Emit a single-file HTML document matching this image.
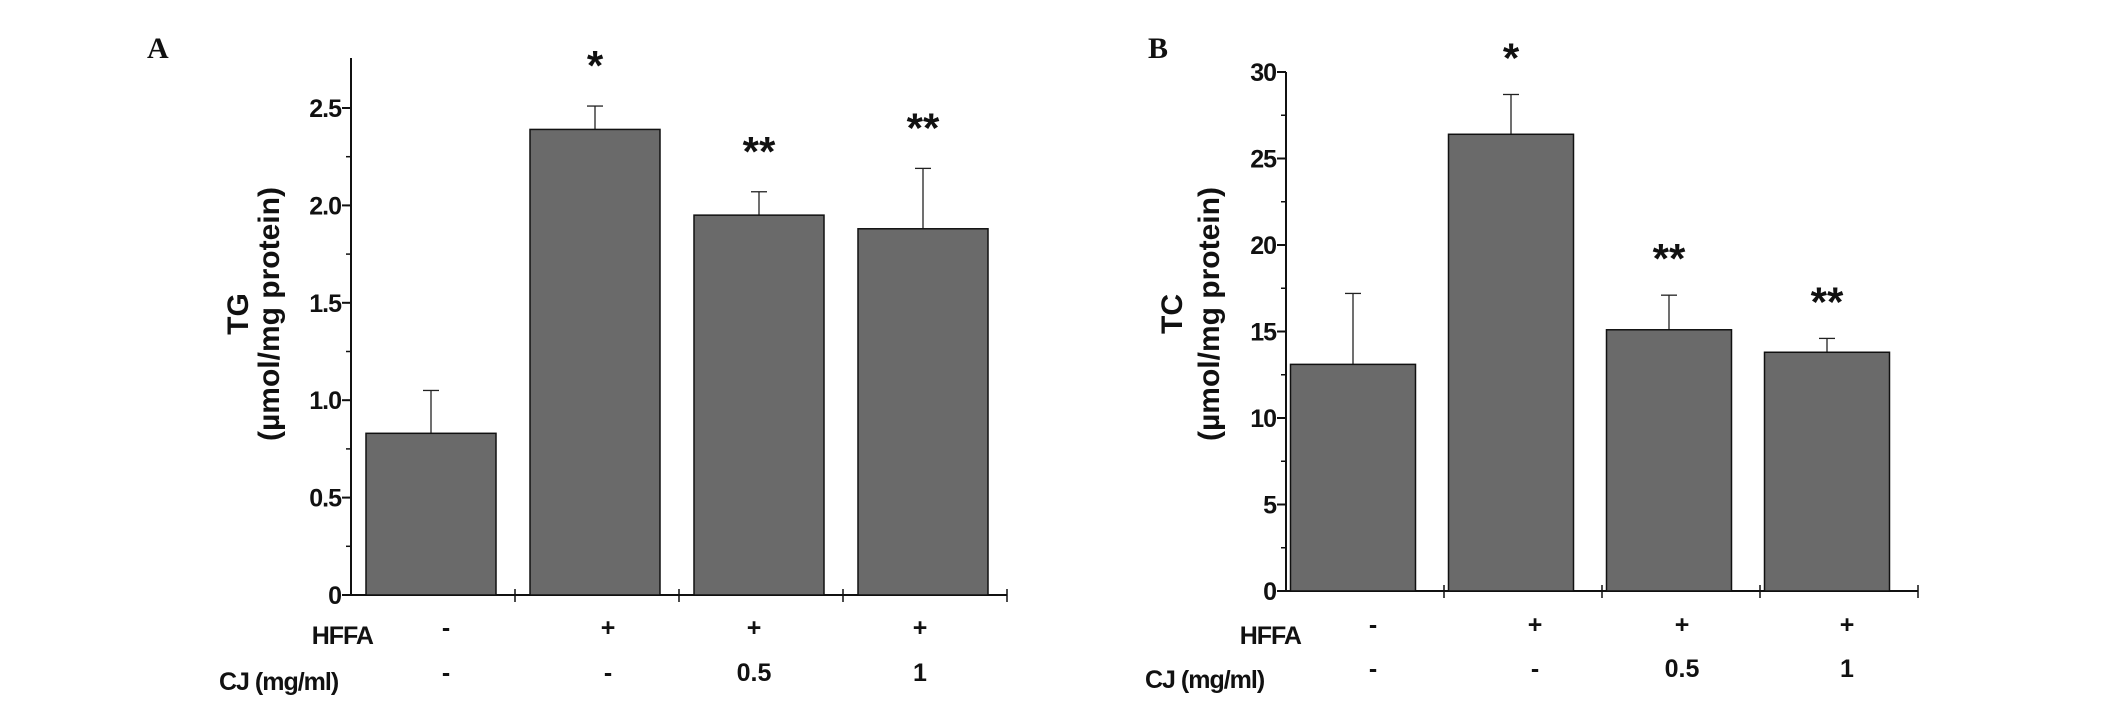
<!DOCTYPE html>
<html><head><meta charset="utf-8"><style>
html,body{margin:0;padding:0;background:#fff;}
svg{display:block;}
text{font-family:"Liberation Sans",sans-serif;font-weight:bold;fill:#111;}
</style></head><body>
<svg id="fig" width="2126" height="705" viewBox="0 0 2126 705" xmlns="http://www.w3.org/2000/svg">
<text x="147" y="58" style="font-family:'Liberation Serif',serif;font-size:30px">A</text>
<text x="1148" y="58" style="font-family:'Liberation Serif',serif;font-size:30px">B</text>
</svg>
<script>
const categories = ["Control","HFFA","HFFA+CJ0.5","HFFA+CJ1"];
const hffaLabels = ["-","+","+","+"];
const cjLabels = ["-","-","0.5","1"];
const tgValues = [0.83, 2.39, 1.95, 1.88];
const tgErrors = [0.22, 0.12, 0.12, 0.31];
const tgStars = ["", "*", "**", "**"];
const tgTicks = ["0","0.5","1.0","1.5","2.0","2.5"];
const tgTickValues = [0, 0.5, 1.0, 1.5, 2.0, 2.5];
const tcValues = [13.1, 26.4, 15.1, 13.8];
const tcErrors = [4.1, 2.3, 2.0, 0.8];
const tcStars = ["", "*", "**", "**"];
const tcTicks = ["0","5","10","15","20","25","30"];
const tcTickValues = [0, 5, 10, 15, 20, 25, 30];

const NS = "http://www.w3.org/2000/svg";
const svg = document.getElementById("fig");
function mk(tag, attrs, parent){
  const e = document.createElementNS(NS, tag);
  for (const k in attrs) e.setAttribute(k, attrs[k]);
  (parent||svg).appendChild(e);
  return e;
}
function drawPanel(p){
  const g = mk("g", {});
  
  
  const y = v => p.y0 - (v / p.yMax) * (p.y0 - p.yTop);
  const catW = (p.xEnd - p.ax) / categories.length;
  const xc = i => p.ax + catW * (i + 0.5) + p.barOff;
  const ya = mk("line", {x1:p.ax, y1:p.axTop, x2:p.ax, y2:p.y0+1, stroke:"#111","stroke-width":2}, g);
  
  
  for (let v = 0; v <= p.yMax + 1e-9; v += p.minor){
    mk("line", {x1:p.ax-5, y1:y(v), x2:p.ax, y2:y(v), stroke:"#111","stroke-width":1.5}, g);
  }
  p.tickValues.forEach((v,i)=>{
    mk("line", {x1:p.ax-9, y1:y(v), x2:p.ax, y2:y(v), stroke:"#111","stroke-width":2}, g);
    const t = mk("text", {x:p.ax-10, y:y(v)+9, "text-anchor":"end", "font-size":25, "letter-spacing":"-1"}, g);
    t.textContent = p.ticks[i];
    
    
  });
  const xa = mk("line", {x1:p.ax, y1:p.y0, x2:p.xEnd, y2:p.y0, stroke:"#111","stroke-width":2}, g);
  
  
  for (let i = 1; i <= categories.length; i++){
    const tx = p.ax + catW * i;
    mk("line", {x1:tx, y1:p.y0-6, x2:tx, y2:p.y0+7, stroke:"#111","stroke-width":1.5}, g);
  }
  p.values.forEach((v,i)=>{
    const cx = xc(i);
    const top = y(v + p.errors[i]);
    const eb = mk("g", {}, g);
    
    
    mk("line", {x1:cx, y1:y(v), x2:cx, y2:top, stroke:"#222","stroke-width":1.3}, eb);
    mk("line", {x1:cx-8, y1:top, x2:cx+8, y2:top, stroke:"#222","stroke-width":1.3}, eb);
    const b = mk("rect", {x:cx-p.barW/2, y:y(v), width:p.barW, height:p.y0-y(v), fill:"#6a6a6a", stroke:"#111","stroke-width":1.5}, g);
    
    
    if (p.stars[i]){
      const s = mk("text", {x:cx, y:top - p.starGap, "text-anchor":"middle", "font-size":42}, g);
      s.textContent = p.stars[i];
      
      
    }
    const h = mk("text", {x:p.signX[i], y:p.hffaY, "text-anchor":"middle", "font-size":25}, g);
    h.textContent = hffaLabels[i];
    
    
    const c = mk("text", {x:p.signX[i], y:p.cjY, "text-anchor":"middle", "font-size":25}, g);
    c.textContent = cjLabels[i];
    
    
  });
  const hl = mk("text", {x:p.hffaLabelX, y:p.hffaLabelY, "text-anchor":"end", "font-size":25, "letter-spacing":"-1"}, g);
  hl.textContent = "HFFA";
  
  
  const cl = mk("text", {x:p.cjLabelX, y:p.cjLabelY, "text-anchor":"start", "font-size":25, "letter-spacing":"-1"}, g);
  cl.textContent = "CJ (mg/ml)";
  
  
  const t1 = mk("text", {x:0, y:0, "text-anchor":"middle", "font-size":30, transform:`translate(${p.titleX1},314) rotate(-90)`}, g);
  t1.textContent = p.title;
  
  
  const t2 = mk("text", {x:0, y:0, "text-anchor":"middle", "font-size":30, transform:`translate(${p.titleX2},314) rotate(-90)`}, g);
  t2.textContent = "(µmol/mg protein)";
  
  
}
drawPanel({id:"panel-a", ax:351, axTop:58, xEnd:1007, y0:595, yTop:108, yMax:2.5, minor:0.25,
  ticks:tgTicks, tickValues:tgTickValues, values:tgValues, errors:tgErrors, stars:tgStars,
  barW:130, barOff:-2, starGap:26, signX:[446,608,754,920], hffaY:636, cjY:681,
  hffaLabelX:373, hffaLabelY:644, cjLabelX:219, cjLabelY:690, title:"TG", titleX1:248, titleX2:279});
drawPanel({id:"panel-b", ax:1286, axTop:72, xEnd:1918, y0:591, yTop:72, yMax:30, minor:2.5,
  ticks:tcTicks, tickValues:tcTickValues, values:tcValues, errors:tcErrors, stars:tcStars,
  barW:125, barOff:-12, starGap:22, signX:[1373,1535,1682,1847], hffaY:633, cjY:677,
  hffaLabelX:1301, hffaLabelY:644, cjLabelX:1145, cjLabelY:688, title:"TC", titleX1:1182, titleX2:1219});
</script>
</body></html>
